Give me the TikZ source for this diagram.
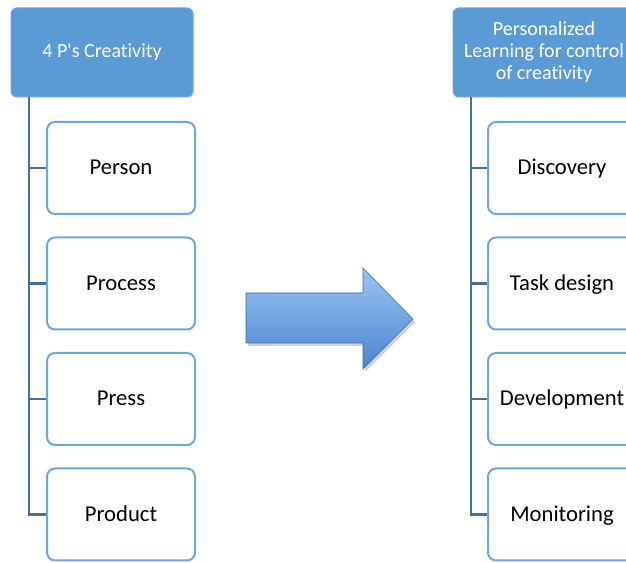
\documentclass[tikz,border=0pt]{standalone}
\usepackage{fontspec}
\setmainfont{Carlito}[Ligatures={TeX,NoCommon}]
\usetikzlibrary{positioning, shadings}

\definecolor{hdrblue}{HTML}{5B9BD5}
\definecolor{boxblue}{HTML}{6FA6DC}
\definecolor{linkblue}{HTML}{41719C}
\definecolor{arrtop}{HTML}{9CC3F2}
\definecolor{arrbot}{HTML}{4A84D2}

\tikzset{
  header/.style={rectangle, rounded corners=4.5pt, fill=hdrblue, draw=boxblue, line width=0.75pt,
    minimum width=136.5pt, minimum height=66.75pt, inner sep=2pt, text=white,
    font=\fontsize{15}{16.5}\selectfont, align=center},
  item/.style={rectangle, rounded corners=6pt, fill=white, draw=boxblue, line width=1.5pt,
    minimum width=111pt, minimum height=69pt, inner sep=2pt, text=black,
    text height=11.5pt, text depth=1pt, font=\fontsize{17}{20}\selectfont},
  link/.style={draw=linkblue, line width=1.6pt}
}

\begin{document}
\begin{tikzpicture}[x=0.75pt, y=-0.75pt]
  \useasboundingbox (0,0) rectangle (626,563);
  \clip (0,0) rectangle (626,563);

  % left tree
  \node[header] (fourp) at (102,52.5) {4 P\textquotesingle s Creativity};
  \node[item] (person)  at (121,168)   {Person};
  \node[item] (process) at (121,283.5) {Process};
  \node[item] (press)   at (121,399)   {Press};
  \node[item] (product) at (121,514.5) {Product};
  \coordinate (lspine) at (29,97);
  \draw[link] (lspine) |- (product.west);
  \draw[link] (lspine |- person.west) -- (person.west);
  \draw[link] (lspine |- process.west) -- (process.west);
  \draw[link] (lspine |- press.west) -- (press.west);

  % right tree
  \node[header] (perslearn) at (544,52.5) {Personalized\\Learning for control\\of creativity};
  \node[item] (discovery)   at (562,168)   {Discovery};
  \node[item] (taskdesign)  at (562,283.5) {Task design};
  \node[item] (development) at (562,399)   {Development};
  \node[item] (monitoring)  at (562,514.5) {Monitoring};
  \coordinate (rspine) at (471,97);
  \draw[link] (rspine) |- (monitoring.west);
  \draw[link] (rspine |- discovery.west) -- (discovery.west);
  \draw[link] (rspine |- taskdesign.west) -- (taskdesign.west);
  \draw[link] (rspine |- development.west) -- (development.west);

  % big arrow
  \fill[black, opacity=0.18] (248,296) -- (365,296) -- (365,271) -- (415,322) -- (365,372) -- (365,346) -- (248,346) -- cycle;
  \shade[top color=arrtop, bottom color=arrbot, draw=arrbot!80!black, line width=0.4pt]
    (246,293) -- (363,293) -- (363,268) -- (413,319) -- (363,369) -- (363,343) -- (246,343) -- cycle;
\end{tikzpicture}
\end{document}
